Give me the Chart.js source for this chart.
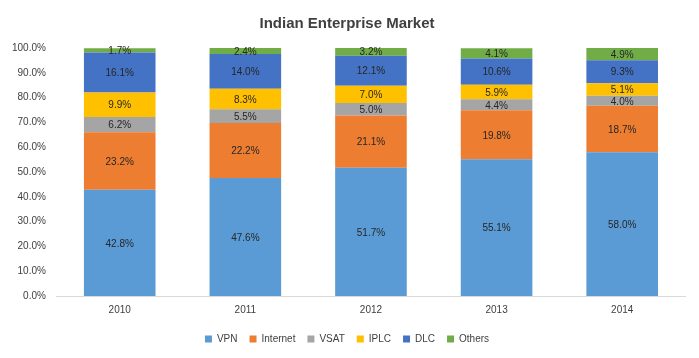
<!DOCTYPE html>
<html>
<head>
<meta charset="utf-8">
<script src="https://cdn.jsdelivr.net/npm/chart.js@4"></script>
<style>
  html, body { margin: 0; padding: 0; background: #fff; }
  #wrap { width: 699px; height: 358px; }
</style>
</head>
<body>
<div id="wrap"><canvas id="marketChart" width="699" height="358"></canvas></div>
<script>
const years = ['2010', '2011', '2012', '2013', '2014'];
const vpn = [42.8, 47.6, 51.7, 55.1, 58.0];
const internet = [23.2, 22.2, 21.1, 19.8, 18.7];
const vsat = [6.2, 5.5, 5.0, 4.4, 4.0];
const iplc = [9.9, 8.3, 7.0, 5.9, 5.1];
const dlc = [16.1, 14.0, 12.1, 10.6, 9.3];
const others = [1.7, 2.4, 3.2, 4.1, 4.9];

const fontFamily = "'Liberation Sans', 'DejaVu Sans', sans-serif";

// draws the value in the middle of every segment
const segmentLabels = {
    id: 'segmentLabels',
    afterDatasetsDraw(chart) {
        const ctx = chart.ctx;
        ctx.save();
        ctx.font = '10px ' + fontFamily;
        ctx.fillStyle = '#262626';
        ctx.textAlign = 'center';
        ctx.textBaseline = 'middle';
        chart.data.datasets.forEach((ds, i) => {
            const meta = chart.getDatasetMeta(i);
            meta.data.forEach((bar, j) => {
                const p = bar.getProps(['x', 'y', 'base'], true);
                ctx.fillText(ds.data[j].toFixed(1) + '%', p.x, (p.y + p.base) / 2 + 1);
            });
        });
        ctx.restore();
    }
};

function makeSet(label, data, color) {
    return {
        label: label,
        data: data,
        backgroundColor: color,
        borderWidth: 0,
        categoryPercentage: 1,
        barPercentage: 0.57
    };
}

new Chart(document.getElementById('marketChart'), {
    type: 'bar',
    data: {
        labels: years,
        datasets: [
            makeSet('VPN', vpn, '#5B9BD5'),
            makeSet('Internet', internet, '#ED7D31'),
            makeSet('VSAT', vsat, '#A5A5A5'),
            makeSet('IPLC', iplc, '#FFC000'),
            makeSet('DLC', dlc, '#4472C4'),
            makeSet('Others', others, '#70AD47')
        ]
    },
    options: {
        responsive: false,
        animation: false,
        layout: { padding: { left: 9, right: 14, top: 4, bottom: 4 } },
        plugins: {
            title: {
                display: true,
                text: 'Indian Enterprise Market',
                color: '#404040',
                font: { family: fontFamily, size: 15, weight: 'bold' },
                padding: { top: 11, bottom: 15 }
            },
            legend: {
                position: 'bottom',
                labels: {
                    boxWidth: 7,
                    boxHeight: 7,
                    color: '#404040',
                    font: { family: fontFamily, size: 10 },
                    padding: 12
                }
            },
            tooltip: { enabled: false }
        },
        scales: {
            x: {
                stacked: true,
                grid: { display: false },
                border: { color: '#d9d9d9' },
                ticks: { color: '#404040', font: { family: fontFamily, size: 10 }, padding: 0 },
                afterFit: scale => { scale.height += 6; }
            },
            y: {
                stacked: true,
                min: 0,
                max: 100,
                grid: { display: false },
                border: { display: false },
                ticks: {
                    stepSize: 10,
                    color: '#404040',
                    font: { family: fontFamily, size: 10 },
                    callback: v => v.toFixed(1) + '%'
                }
            }
        }
    },
    plugins: [segmentLabels]
});
</script>
</body>
</html>
